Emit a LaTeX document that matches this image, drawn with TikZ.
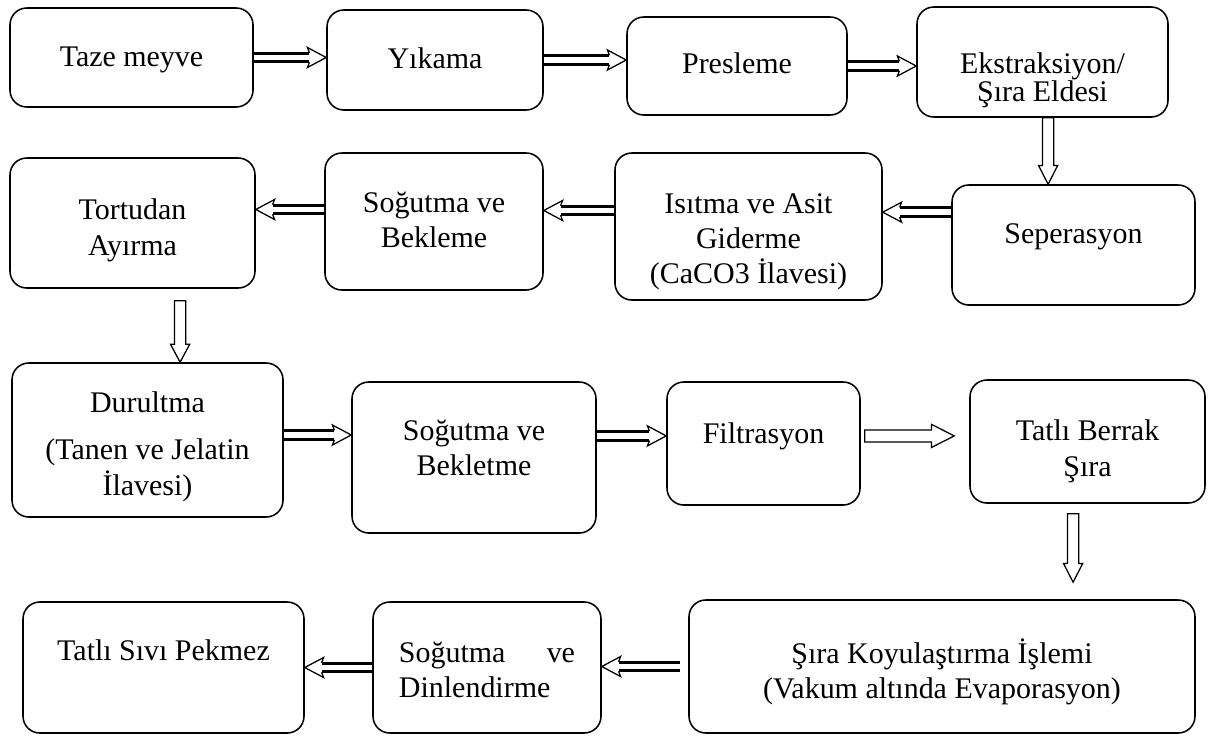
\documentclass[tikz,border=0pt]{standalone}
\usepackage{fontspec}
\setmainfont{Liberation Serif}
\usepackage{tikz}
\usetikzlibrary{calc,positioning}
\newcommand{\boxtxt}[2]{\raisebox{#1}[0pt][0pt]{\begin{tabular}[b]{@{}c@{}}#2\end{tabular}}}
\tikzset{
  box/.style={draw,line width=1.1pt,rounded corners=0.42cm,inner sep=2pt,
    font=\fontsize{21.3}{25}\selectfont},
  sz/.style 2 args={minimum width=#1*0.025cm,minimum height=#2*0.025cm},
  dblshaft/.style={double,double distance=3.9pt,line width=2.3pt},
  dblhead/.style={draw,fill=white,line width=0.9pt,to path={
    ($(\tikztotarget)!0.42cm!(\tikztostart)!0.12cm!90:(\tikztostart)$)
    -- ($(\tikztotarget)!0.47cm!(\tikztostart)!0.25cm!90:(\tikztostart)$)
    -- (\tikztotarget)
    -- ($(\tikztotarget)!0.47cm!(\tikztostart)!0.25cm!-90:(\tikztostart)$)
    -- ($(\tikztotarget)!0.42cm!(\tikztostart)!0.12cm!-90:(\tikztostart)$)}},
  blockarr/.style args={#1/#2/#3}{draw,fill=white,line width=0.9pt,to path={
    ($(\tikztostart)!#1!-90:(\tikztotarget)$)
    -- ($(\tikztotarget)!#3!(\tikztostart)!#1!90:(\tikztostart)$)
    -- ($(\tikztotarget)!#3!(\tikztostart)!#2!90:(\tikztostart)$)
    -- (\tikztotarget)
    -- ($(\tikztotarget)!#3!(\tikztostart)!#2!-90:(\tikztostart)$)
    -- ($(\tikztotarget)!#3!(\tikztostart)!#1!-90:(\tikztostart)$)
    -- ($(\tikztostart)!#1!90:(\tikztotarget)$) -- cycle}}
}

\begin{document}
\begin{tikzpicture}[x=0.025cm,y=-0.025cm]
\useasboundingbox (0,0) rectangle (1208,738);
% first row
\node[box,sz={243}{99}] (taze) at (131.5,57.5) {\boxtxt{-0.235cm}{Taze meyve}};
\node[box,sz={216}{100}] (yik) at (435,60) {\boxtxt{-0.2cm}{Yıkama}};
\node[box,sz={220}{98}] (pres) at (737,66) {\boxtxt{-0.175cm}{Presleme}};
\node[box,sz={251}{110}] (ekst) at (1042.5,62) {\boxtxt{-0.975cm}{Ekstraksiyon/\\[-0.2cm]Şıra Eldesi}};
% second row
\node[box,sz={243}{120}] (sep) at (1073.5,245) {\boxtxt{0.05cm}{Seperasyon}};
\node[box,sz={267}{147}] (isi) at (748.5,226.5) {\boxtxt{-1.43cm}{Isıtma ve Asit\\Giderme\\(CaCO3 İlavesi)}};
\node[box,sz={218}{137}] (sogb) at (434,221.5) {\boxtxt{-0.66cm}{Soğutma ve\\Bekleme}};
\node[box,sz={245}{130}] (tort) at (132.5,223) {\boxtxt{-0.8cm}{Tortudan\\Ayırma}};
% third row
\node[box,sz={271}{154}] (durul) at (147.5,440) {\boxtxt{-1.375cm}{Durultma\\[0.3cm](Tanen ve Jelatin\\İlavesi)}};
\node[box,sz={244}{151}] (sogbt) at (474,457.5) {\boxtxt{-0.46cm}{Soğutma ve\\Bekletme}};
\node[box,sz={193}{123}] (filt) at (763.5,443.5) {\boxtxt{0.01cm}{Filtrasyon}};
\node[box,sz={235}{123}] (tatli) at (1087.5,441.5) {\boxtxt{-0.865cm}{Tatlı Berrak\\Şıra}};
% last row
\node[box,sz={506}{133}] (koy) at (942,666.5) {\boxtxt{-0.8cm}{Şıra Koyulaştırma İşlemi\\(Vakum altında Evaporasyon)}};
\node[box,sz={228}{131}] (sogd) at (487,667.5) {\raisebox{-0.76cm}[0pt][0pt]{\begin{tabular}[b]{@{}p{4.4cm}@{}}Soğutma\hfill ve\\Dinlendirme\end{tabular}}};
\node[box,sz={281}{131}] (pek) at (163.5,667.5) {\boxtxt{0.185cm}{Tatlı Sıvı Pekmez}};

% arrow ends
\coordinate (sepout) at ([yshift=0.82cm]sep.west);
\coordinate (isiout) at ([yshift=0.4cm]isi.west);
\coordinate (sogbout) at ([yshift=0.3cm]sogb.west);
\coordinate (durulout) at ([yshift=0.125cm]durul.east);
\coordinate (sogbtout) at ([yshift=0.54cm]sogbt.east);
\coordinate (koyout) at ([xshift=-0.2cm]koy.west);
\coordinate (filtout) at ([xshift=0.1cm,yshift=0.19cm]filt.east);
\coordinate (ekstout) at ([xshift=0.14cm]ekst.south);
\coordinate (tortout) at ([xshift=1.19cm,yshift=-0.3cm]tort.south);
\coordinate (tatliout) at ([xshift=-0.36cm,yshift=-0.25cm]tatli.south);

% double arrows
\foreach \s/\t in {taze.east/taze.east -| yik.west, yik.east/yik.east -| pres.west,
  pres.east/pres.east -| ekst.west, sepout/sepout -| isi.east,
  isiout/isiout -| sogb.east, sogbout/sogbout -| tort.east,
  durulout/durulout -| sogbt.west, sogbtout/sogbtout -| filt.west,
  koyout/koyout -| sogd.east, sogd.west/sogd.west -| pek.east}
{
  \draw[dblshaft] (\s) -- ($(\t)!0.43cm!(\s)$);
  \draw[dblhead] (\s) to (\t);
}

% single block arrows
\draw[blockarr=0.15cm/0.29cm/0.57cm] (filtout) to ($(filtout -| tatli.west)+(-15,0)$);
\draw[blockarr=0.14cm/0.24cm/0.47cm] (ekstout) to (ekstout |- sep.north);
\draw[blockarr=0.14cm/0.24cm/0.45cm] (tortout) to (tortout |- durul.north);
\draw[blockarr=0.14cm/0.24cm/0.47cm] (tatliout) to ($(tatliout |- koy.north)+(0,-17)$);
\end{tikzpicture}
\end{document}
